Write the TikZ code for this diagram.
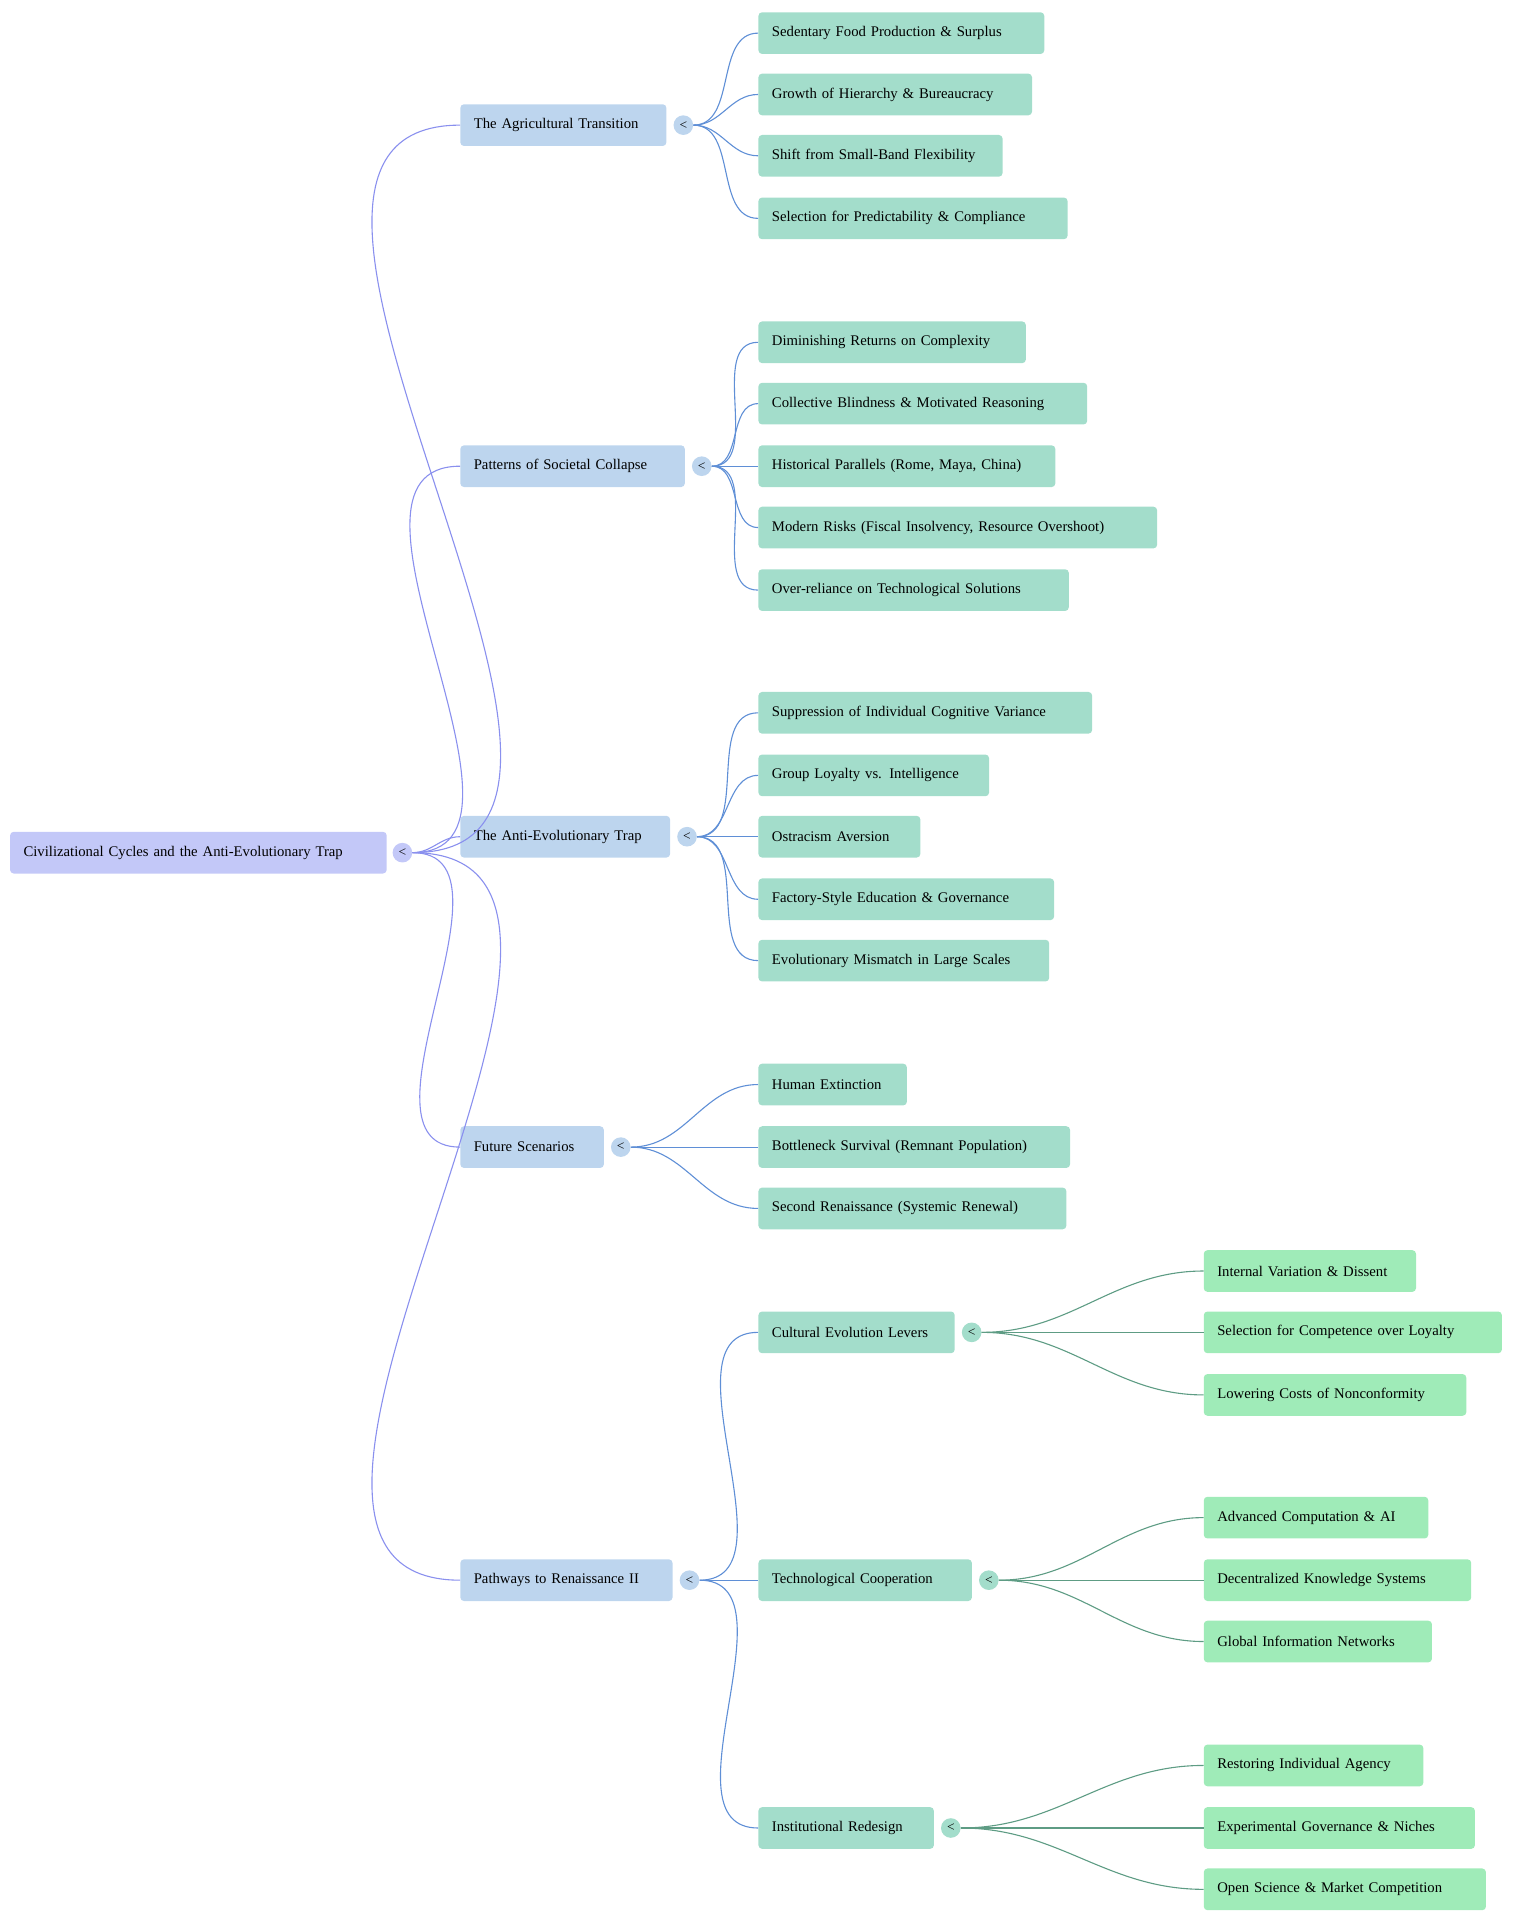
\documentclass[tikz,border=0pt]{standalone}
\usepackage{fontspec}
\setmainfont{Liberation Serif}
\usetikzlibrary{positioning}
\definecolor{rootfill}{HTML}{C3C8F8}
\definecolor{lonefill}{HTML}{BDD5EE}
\definecolor{ltwofill}{HTML}{A3DDCB}
\definecolor{lthreefill}{HTML}{9FEBB8}
\definecolor{rootedge}{HTML}{8A90EE}
\definecolor{loneedge}{HTML}{5F8FD6}
\definecolor{ltwoedge}{HTML}{5E9C84}
\tikzset{
    box/.style={rectangle, rounded corners=3pt, anchor=west, minimum height=34pt, inner xsep=11pt, align=left, font=\fontsize{12}{14}\selectfont},
    rootbox/.style={box, fill=rootfill},
    onebox/.style={box, fill=lonefill},
    twobox/.style={box, fill=ltwofill},
    threebox/.style={box, fill=lthreefill},
    knob/.style={circle, inner sep=0pt, minimum size=16pt, font=\fontsize{11}{11}\selectfont},
    edge/.style={line width=0.9pt, out=0, in=180},
}
\begin{document}
\begin{tikzpicture}[x=1pt, y=-1pt]
    \useasboundingbox (0,0) rectangle (1252,1565);
    % Root
    \node[rootbox, text width=285pt] (root) at (8,695) {Civilizational Cycles and the Anti-Evolutionary Trap};
    \node[knob, fill=rootfill] (kroot) at (328,695) {<};

    % Main branches
    \node[onebox, text width=146pt] (agri) at (375,102) {The Agricultural Transition};
    \node[knob, fill=lonefill] (kagri) at (557,102) {<};
    \node[onebox, text width=161pt] (coll) at (375,380) {Patterns of Societal Collapse};
    \node[knob, fill=lonefill] (kcoll) at (572,380) {<};
    \node[onebox, text width=149pt] (trap) at (375,682) {The Anti-Evolutionary Trap};
    \node[knob, fill=lonefill] (ktrap) at (560,682) {<};
    \node[onebox, text width=95pt] (futr) at (375,935) {Future Scenarios};
    \node[knob, fill=lonefill] (kfutr) at (506,935) {<};
    \node[onebox, text width=151pt] (path) at (375,1288) {Pathways to Renaissance II};
    \node[knob, fill=lonefill] (kpath) at (562,1288) {<};

    \foreach \n in {agri,coll,trap,futr,path}
        \draw[edge, rootedge] (kroot.east) to (\n.west);

    % Agricultural transition
    \node[twobox, text width=211pt] (agria) at (618,27) {Sedentary Food Production \& Surplus};
    \node[twobox, text width=201pt] (agrib) at (618,77) {Growth of Hierarchy \& Bureaucracy};
    \node[twobox, text width=177pt] (agric) at (618,127) {Shift from Small-Band Flexibility};
    \node[twobox, text width=230pt] (agrid) at (618,178) {Selection for Predictability \& Compliance};
    \foreach \n in {agria,agrib,agric,agrid}
        \draw[edge, loneedge] (kagri.east) to (\n.west);

    % Societal collapse
    \node[twobox, text width=196pt] (colla) at (618,279) {Diminishing Returns on Complexity};
    \node[twobox, text width=246pt] (collb) at (618,329) {Collective Blindness \& Motivated Reasoning};
    \node[twobox, text width=220pt] (collc) at (618,380) {Historical Parallels (Rome, Maya, China)};
    \node[twobox, text width=303pt] (colld) at (618,430) {Modern Risks (Fiscal Insolvency, Resource Overshoot)};
    \node[twobox, text width=231pt] (colle) at (618,481) {Over-reliance on Technological Solutions};
    \foreach \n in {colla,collb,collc,colld,colle}
        \draw[edge, loneedge] (kcoll.east) to (\n.west);

    % Anti-evolutionary trap
    \node[twobox, text width=250pt] (trapa) at (618,581) {Suppression of Individual Cognitive Variance};
    \node[twobox, text width=166pt] (trapb) at (618,632) {Group Loyalty vs. Intelligence};
    \node[twobox, text width=110pt] (trapc) at (618,682) {Ostracism Aversion};
    \node[twobox, text width=219pt] (trapd) at (618,733) {Factory-Style Education \& Governance};
    \node[twobox, text width=215pt] (trape) at (618,783) {Evolutionary Mismatch in Large Scales};
    \foreach \n in {trapa,trapb,trapc,trapd,trape}
        \draw[edge, loneedge] (ktrap.east) to (\n.west);

    % Future scenarios
    \node[twobox, text width=99pt] (futra) at (618,884) {Human Extinction};
    \node[twobox, text width=232pt] (futrb) at (618,935) {Bottleneck Survival (Remnant Population)};
    \node[twobox, text width=229pt] (futrc) at (618,985) {Second Renaissance (Systemic Renewal)};
    \foreach \n in {futra,futrb,futrc}
        \draw[edge, loneedge] (kfutr.east) to (\n.west);

    % Pathways
    \node[twobox, text width=138pt] (cult) at (618,1086) {Cultural Evolution Levers};
    \node[knob, fill=ltwofill] (kcult) at (792,1086) {<};
    \node[twobox, text width=152pt] (tech) at (618,1288) {Technological Cooperation};
    \node[knob, fill=ltwofill] (ktech) at (806,1288) {<};
    \node[twobox, text width=121pt] (inst) at (618,1490) {Institutional Redesign};
    \node[knob, fill=ltwofill] (kinst) at (775,1490) {<};
    \foreach \n in {cult,tech,inst}
        \draw[edge, loneedge] (kpath.east) to (\n.west);

    \node[threebox, text width=151pt] (culta) at (981,1036) {Internal Variation \& Dissent};
    \node[threebox, text width=221pt] (cultb) at (981,1086) {Selection for Competence over Loyalty};
    \node[threebox, text width=192pt] (cultc) at (981,1137) {Lowering Costs of Nonconformity};
    \foreach \n in {culta,cultb,cultc}
        \draw[edge, ltwoedge] (kcult.east) to (\n.west);

    \node[threebox, text width=161pt] (techa) at (981,1237) {Advanced Computation \& AI};
    \node[threebox, text width=196pt] (techb) at (981,1288) {Decentralized Knowledge Systems};
    \node[threebox, text width=164pt] (techc) at (981,1338) {Global Information Networks};
    \foreach \n in {techa,techb,techc}
        \draw[edge, ltwoedge] (ktech.east) to (\n.west);

    \node[threebox, text width=157pt] (insta) at (981,1439) {Restoring Individual Agency};
    \node[threebox, text width=199pt] (instb) at (981,1490) {Experimental Governance \& Niches};
    \node[threebox, text width=208pt] (instc) at (981,1540) {Open Science \& Market Competition};
    \foreach \n in {insta,instb,instc}
        \draw[edge, ltwoedge] (kinst.east) to (\n.west);
\end{tikzpicture}
\end{document}
